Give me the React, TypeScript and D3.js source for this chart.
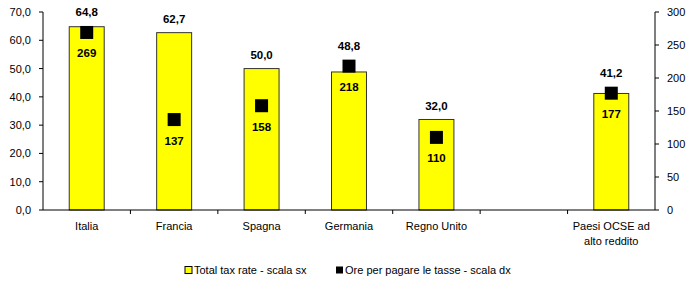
import React from "react";
import * as d3 from "d3";

const categories: string[][] = [["Italia"], ["Francia"], ["Spagna"], ["Germania"], ["Regno Unito"], [], ["Paesi OCSE ad", "alto reddito"]];
const taxRate: (number | null)[] = [64.8, 62.7, 50.0, 48.8, 32.0, null, 41.2];
const hours: (number | null)[] = [269, 137, 158, 218, 110, null, 177];
const leftTicks = [0, 10, 20, 30, 40, 50, 60, 70];
const rightTicks = [0, 50, 100, 150, 200, 250, 300];
const legendLabels = ["Total tax rate - scala sx", "Ore per pagare le tasse - scala dx"];

const W = 700, H = 286;
const left = 43, right = 655, top = 12, bottom = 210;
const font = "'Liberation Sans', Arial, sans-serif";
const fmt = (v: number) => v.toFixed(1).replace(".", ",");

export default function App() {
  const idx = categories.map((_, i) => String(i));
  const x = d3.scaleBand<string>().domain(idx).range([left, right]).paddingInner(0.6).paddingOuter(0.3);
  const yL = d3.scaleLinear().domain([0, 70]).range([bottom, top]);
  const yR = d3.scaleLinear().domain([0, 300]).range([bottom, top]);
  const step = x.step();
  const bw = x.bandwidth();
  const sq = 13;

  return (
    <svg width={W} height={H} style={{ position: "absolute", left: 0, top: 0 }} fontFamily={font}>
      <rect x={0} y={0} width={W} height={H} fill="#fff" />
      {taxRate.map((v, i) =>
        v == null ? null : (
          <rect key={"b" + i} x={x(String(i))!} y={yL(v)} width={bw} height={bottom - yL(v)} fill="#FFFF00" stroke="#333" strokeWidth={1} />
        )
      )}
      <line x1={left} x2={left} y1={top} y2={bottom} stroke="#000" />
      {leftTicks.map((t) => (
        <g key={"l" + t}>
          <line x1={left - 4} x2={left} y1={yL(t)} y2={yL(t)} stroke="#000" />
          <text x={left - 12} y={yL(t) + 4} textAnchor="end" fontSize={11} fill="#000">{fmt(t)}</text>
        </g>
      ))}
      <line x1={right} x2={right} y1={top} y2={bottom} stroke="#000" />
      {rightTicks.map((t) => (
        <g key={"r" + t}>
          <line x1={right} x2={right + 4} y1={yR(t)} y2={yR(t)} stroke="#000" />
          <text x={right + 12} y={yR(t) + 4} textAnchor="start" fontSize={11} fill="#000">{t}</text>
        </g>
      ))}
      <line x1={left} x2={right} y1={bottom} y2={bottom} stroke="#000" />
      {idx.slice(1).map((k) => (
        <line key={"xt" + k} x1={x(k)! - (step - bw) / 2} x2={x(k)! - (step - bw) / 2} y1={bottom} y2={bottom + 4} stroke="#000" />
      ))}
      {categories.map((lines, i) => (
        <text key={"c" + i} x={x(String(i))! + bw / 2} y={230} textAnchor="middle" fontSize={11} fill="#000">
          {lines.map((ln, j) => (
            <tspan key={j} x={x(String(i))! + bw / 2} dy={j === 0 ? 0 : 15}>{ln}</tspan>
          ))}
        </text>
      ))}
      {hours.map((h, i) =>
        h == null ? null : (
          <rect key={"s" + i} x={x(String(i))! + bw / 2 - sq / 2} y={yR(h) - sq / 2} width={sq} height={sq} fill="#000" />
        )
      )}
      {taxRate.map((v, i) => {
        if (v == null) return null;
        const h = hours[i]!;
        const topY = Math.min(yL(v), yR(h) - sq / 2);
        return (
          <text key={"bl" + i} x={x(String(i))! + bw / 2} y={topY - 13.5 + 4} textAnchor="middle" fontSize={11.5} fontWeight="bold" fill="#000">{fmt(v)}</text>
        );
      })}
      {hours.map((h, i) =>
        h == null ? null : (
          <text key={"sl" + i} x={x(String(i))! + bw / 2} y={yR(h) + 21 + 4} textAnchor="middle" fontSize={11.5} fontWeight="bold" fill="#000">{h}</text>
        )
      )}
      <rect x={185} y={266.5} width={7} height={7} fill="#FFFF00" stroke="#000" strokeWidth={1} />
      <text x={194} y={274} fontSize={11} fill="#000">{legendLabels[0]}</text>
      <rect x={336} y={266.5} width={7} height={7} fill="#000" />
      <text x={345} y={274} fontSize={11} fill="#000">{legendLabels[1]}</text>
    </svg>
  );
}
